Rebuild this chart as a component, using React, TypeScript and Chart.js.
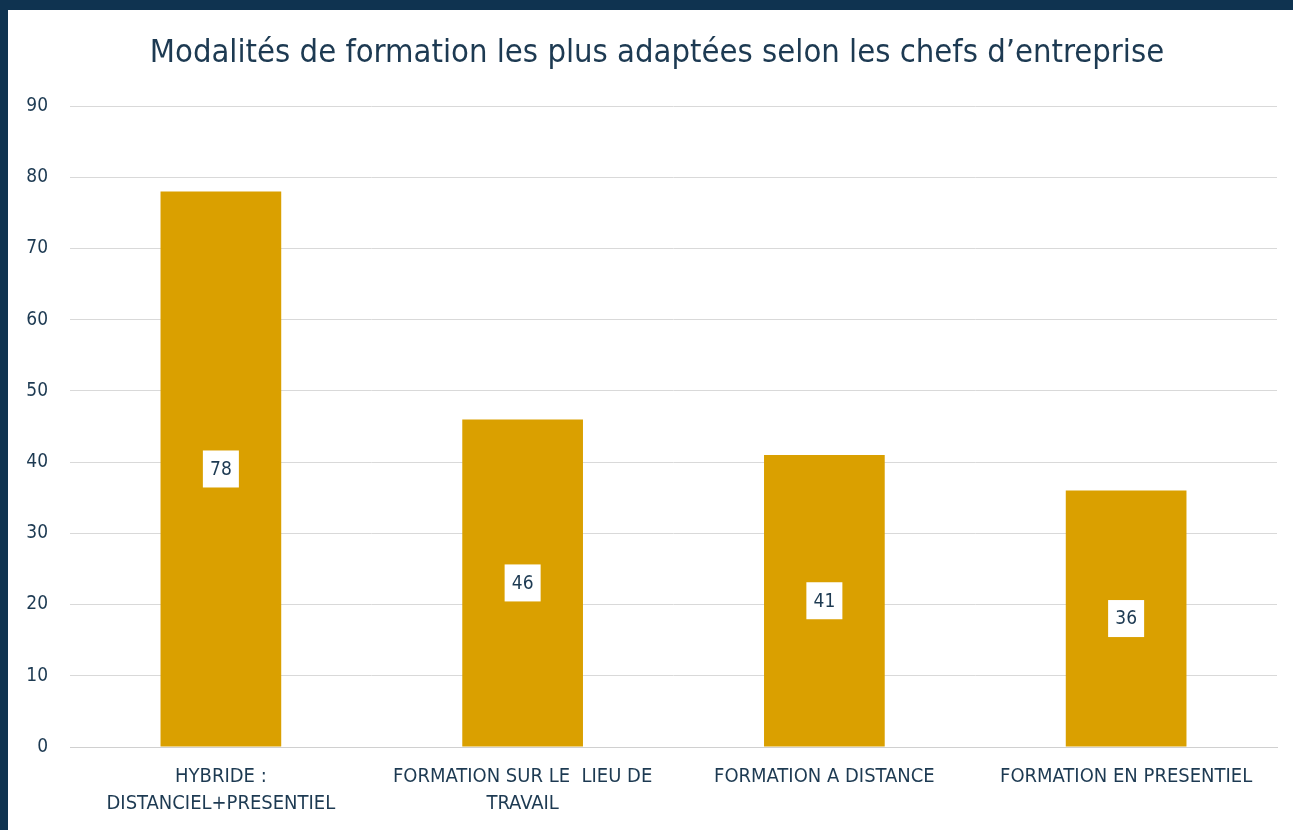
import React, { useEffect, useRef } from "react";
import { Chart, registerables } from "chart.js";

Chart.register(...registerables);

const TITLE = "Modalités de formation les plus adaptées selon les chefs d’entreprise";
const categories: string[][] = [
  ["HYBRIDE :", "DISTANCIEL+PRESENTIEL"],
  ["FORMATION SUR LE  LIEU DE", "TRAVAIL"],
  ["FORMATION A DISTANCE"],
  ["FORMATION EN PRESENTIEL"],
];
const values = [78, 46, 41, 36];
const yTicks = [0, 10, 20, 30, 40, 50, 60, 70, 80, 90];

const FONT = "'Liberation Sans Narrow', 'DejaVu Sans Condensed', 'Noto Sans', sans-serif";
const TEXT = "#1d3a52";

const titlePlugin = {
  id: "titleText",
  afterDraw(chart: any) {
    const ctx = chart.ctx;
    ctx.save();
    ctx.fillStyle = TEXT;
    ctx.font = `32.5px ${FONT}`;
    ctx.textAlign = "center";
    ctx.textBaseline = "middle";
    ctx.fillText(TITLE, 649, 43.5);
    ctx.restore();
  },
};

const boxLabels = {
  id: "boxLabels",
  afterDatasetsDraw(chart: any) {
    const ctx = chart.ctx;
    const meta = chart.getDatasetMeta(0);
    const ds = chart.data.datasets[0];
    ctx.save();
    meta.data.forEach((bar: any, i: number) => {
      const v = ds.data[i];
      const cy = (bar.y + bar.base) / 2;
      const w = 36, h = 37;
      ctx.fillStyle = "#ffffff";
      ctx.fillRect(bar.x - w / 2, cy - h / 2, w, h);
      ctx.fillStyle = TEXT;
      ctx.font = `19px ${FONT}`;
      ctx.textAlign = "center";
      ctx.textBaseline = "middle";
      ctx.fillText(String(v), bar.x, cy + 1);
    });
    ctx.restore();
  },
};

export default function App() {
  const ref = useRef<HTMLCanvasElement>(null);
  useEffect(() => {
    document.body.style.margin = "0";
    document.body.style.background = "#0f3350";
    const chart = new Chart(ref.current!, {
      type: "bar",
      data: {
        labels: categories,
        datasets: [
          {
            data: values,
            backgroundColor: "#daa000",
            barPercentage: 0.4,
            categoryPercentage: 1,
          },
        ],
      },
      options: {
        animation: false,
        responsive: false,
        layout: { padding: { left: 0, right: 16, top: 96, bottom: 0 } },
        plugins: {
          legend: { display: false },
          tooltip: { enabled: false },
          title: { display: false },
        },
        scales: {
          x: {
            grid: { display: false },
            border: { color: "#d0d0d0", width: 1 },
            afterFit: (axis: any) => {
              axis.height = 83;
            },
            ticks: {
              color: TEXT,
              font: { family: FONT, size: 20, lineHeight: 1.35 },
              maxRotation: 0,
              autoSkip: false,
              padding: 8,
            },
          },
          y: {
            min: 0,
            max: 90,
            afterBuildTicks: (axis: any) => {
              axis.ticks = yTicks.map((v) => ({ value: v }));
            },
            afterFit: (axis: any) => {
              axis.width = 62;
            },
            grid: { color: "#d9d9d9", lineWidth: 1, drawTicks: false },
            border: { display: false },
            ticks: {
              color: TEXT,
              font: { family: FONT, size: 19 },
              padding: 22,
            },
          },
        },
      },
      plugins: [boxLabels, titlePlugin],
    });
    return () => chart.destroy();
  }, []);
  return (
    <div style={{ position: "absolute", left: 8, top: 10, width: 1285, height: 820, background: "#ffffff" }}>
      <canvas ref={ref} width={1285} height={820} />
    </div>
  );
}
